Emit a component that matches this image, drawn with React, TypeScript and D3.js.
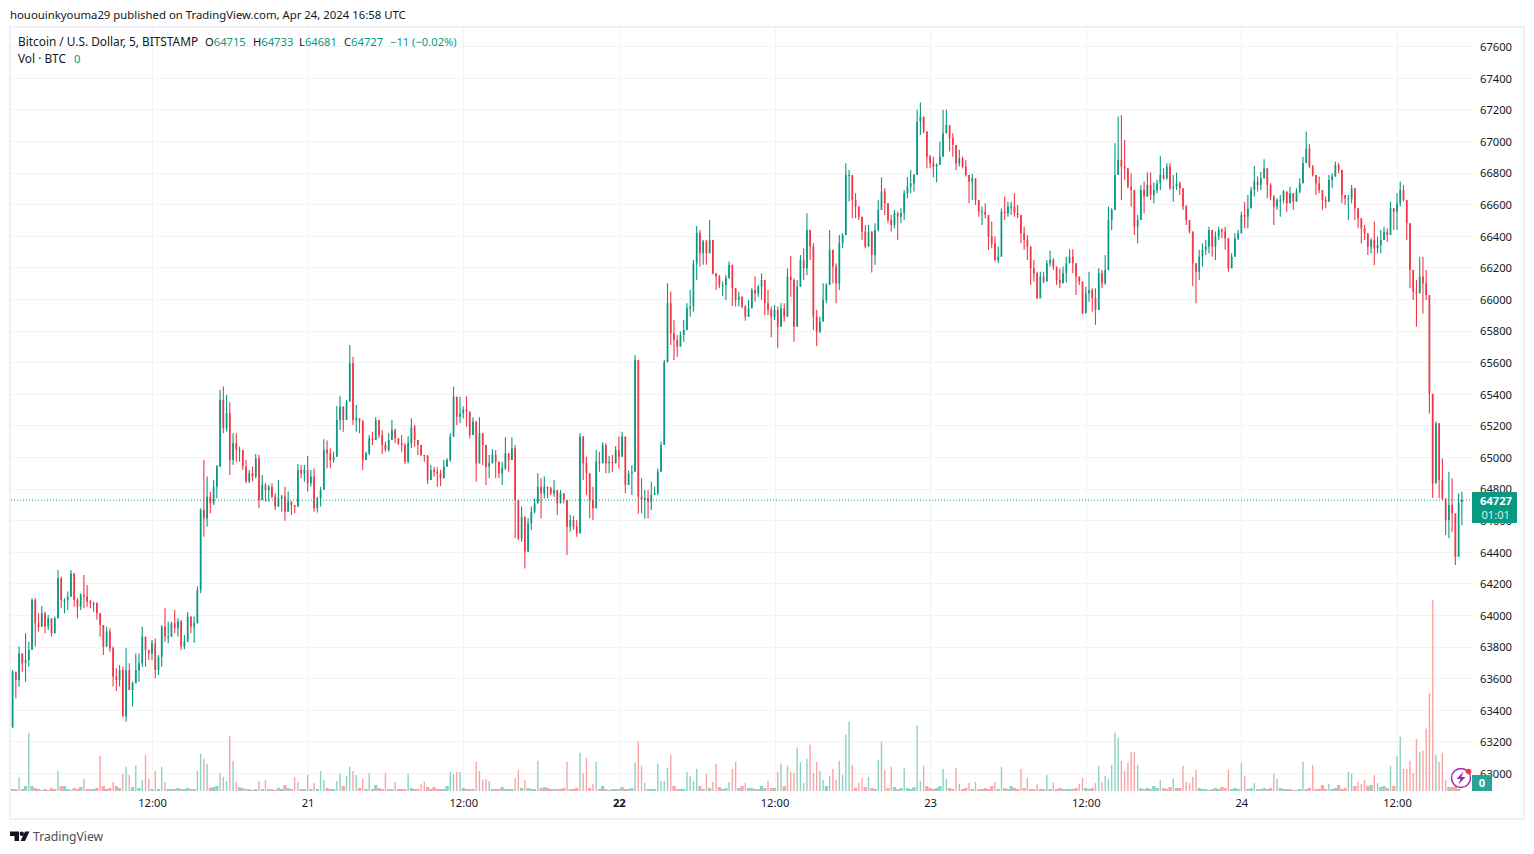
import React, { useEffect, useRef } from "react";
import * as d3 from "d3";

// one row per 10 candles, 15 min each
const closes = [
  63641,63589,63757,63694,63715,63779,64095,63947,63926,64011,
  63926,63979,63884,63979,64232,64095,64095,64116,64264,64095,
  64053,64127,64116,64084,64074,64074,64011,63937,63800,63895,
  63789,63610,63589,63652,63357,63650,63525,63568,63652,63694,
  63863,63779,63757,63821,63652,63736,63926,63863,63863,63947,
  63916,63958,63800,63831,63990,63926,63947,64158,64665,64612,
  64749,64707,64812,64939,65361,65182,65277,64981,65087,65045,
  65045,64939,64844,64897,64876,64992,64728,64823,64791,64812,
  64749,64686,64739,64749,64654,64718,64696,64686,64918,64897,
  64918,64834,64876,64675,64739,64791,65045,65023,64981,65002,
  65234,65319,65234,65350,65593,65234,65245,65224,64981,65023,
  65118,65108,65234,65139,65076,65044,65108,65171,65118,65087,
  65076,64970,65087,65192,65108,65076,65013,65006,64854,64918,
  64907,64897,64865,64939,64981,65129,65382,65255,65276,65298,
  65287,65139,65224,64960,65150,65076,64939,64960,65013,64970,
  64897,64928,65023,64981,65055,64728,64485,64622,64401,64580,
  64654,64707,64812,64770,64812,64802,64770,64791,64707,64770,
  64728,64559,64601,64559,64517,65129,64960,64897,64728,64675,
  64970,64960,65076,64960,64970,64960,65044,65002,65129,64823,
  64897,64907,65614,64749,64728,64740,64717,64760,64770,64907,
  65076,65600,65973,65783,65741,65699,65772,65804,65941,65952,
  66226,66416,66290,66363,66290,66374,66163,66142,66089,66089,
  66131,66216,66068,65994,66015,65952,65888,65941,66057,66036,
  66078,66120,65973,65931,65888,65931,65825,65941,65888,66142,
  66120,65825,66078,66247,66194,66437,66332,65888,65794,65857,
  65994,66089,66311,66205,66100,66353,66405,66785,66785,66627,
  66585,66521,66427,66332,66427,66279,66437,66564,66680,66606,
  66500,66469,66543,66521,66543,66669,66711,66732,66785,67123,
  67154,67060,66901,66859,66838,66849,66901,67049,67102,67017,
  66975,66859,66891,66838,66785,66743,66764,66627,66553,66553,
  66532,66395,66353,66247,66268,66553,66543,66585,66585,66543,
  66532,66416,66374,66332,66194,66163,66005,66142,66110,66226,
  66247,66205,66120,66100,66163,66226,66268,66226,66142,66110,
  65910,66036,66057,66005,65931,66163,66100,66184,66500,66564,
  66785,66880,66838,66827,66711,66690,66458,66500,66690,66648,
  66722,66659,66690,66732,66785,66764,66838,66701,66711,66732,
  66701,66585,66500,66427,66226,66173,66268,66311,66332,66437,
  66332,66395,66437,66427,66384,66194,66268,66384,66416,66532,
  66521,66574,66690,66743,66722,66764,66827,66722,66648,66585,
  66627,66627,66680,66606,66669,66616,66680,66732,66860,66950,
  66838,66785,66732,66690,66627,66616,66753,66775,66848,66817,
  66658,66637,66637,66701,66574,66511,66447,66416,66331,66374,
  66321,66342,66374,66426,66405,66574,66553,66606,66690,66627,
  66479,66184,66046,66036,66141,66099,66025,65400,64833,65213,
  64854,64738,64601,64696,64643,64369,64715,64727,
];

const highs = [
  63652,63641,63800,63757,63884,63831,64106,64106,64011,64057,
  64021,64000,63979,63990,64285,64243,64106,64148,64285,64264,
  64106,64137,64253,64190,64095,64084,64080,64011,63937,63926,
  63916,63800,63663,63684,63673,63789,63694,63578,63757,63757,
  63926,63842,63779,63842,63852,63747,63937,64042,63958,63958,
  64032,63979,63968,63874,64017,63990,63990,64180,64675,64981,
  64876,64781,64855,64950,65424,65446,65393,65346,65150,65150,
  65066,65045,64981,64918,64939,65019,65013,64886,64834,64823,
  64834,64770,64855,64760,64812,64781,64707,64696,64956,64950,
  64950,65007,64918,64928,64749,64812,65112,65104,65055,65034,
  65323,65386,65308,65361,65709,65635,65329,65245,65234,65034,
  65139,65160,65251,65203,65171,65097,65150,65234,65181,65118,
  65139,65087,65133,65245,65203,65108,65076,65013,65013,64949,
  64939,64935,64918,64981,64992,65150,65445,65382,65382,65319,
  65386,65203,65251,65203,65251,65150,65055,65013,65049,65044,
  64970,64970,65125,65023,65125,65076,64643,64686,64559,64612,
  64686,64738,64897,64865,64876,64812,64812,64854,64791,64791,
  64770,64675,64633,64627,64601,65150,65133,65002,64886,64812,
  65044,65034,65091,65087,65006,65013,65070,65129,65160,65129,
  64914,64949,65646,65604,64865,64791,64791,64844,64812,64928,
  65097,65614,66100,66047,65867,65772,65794,65867,65973,66057,
  66247,66462,66437,66374,66374,66500,66367,66163,66152,66110,
  66152,66237,66110,66057,66047,66015,65962,65994,66068,66142,
  66089,66163,65998,66057,65952,65962,65952,65973,65973,66194,
  66272,66131,66120,66279,66321,66543,66416,66353,65931,65888,
  66100,66100,66437,66289,66226,66405,66416,66859,66817,66785,
  66669,66585,66500,66469,66469,66342,66479,66627,66770,66701,
  66574,66532,66564,66553,66574,66690,66770,66817,66791,67197,
  67243,67102,67060,66912,66901,66859,66996,67197,67197,67091,
  67049,66954,66944,66901,66880,66775,66791,66764,66627,66585,
  66606,66517,66490,66395,66332,66574,66648,66616,66616,66669,
  66595,66458,66458,66405,66205,66247,66173,66173,66173,66247,
  66306,66258,66194,66194,66205,66268,66315,66315,66216,66142,
  66015,66078,66173,66068,66068,66194,66184,66279,66585,66574,
  66986,67155,67165,67007,66827,66796,66638,66532,66722,66743,
  66800,66800,66737,66754,66905,66827,66859,66859,66785,66800,
  66743,66648,66595,66490,66363,66184,66311,66353,66374,66458,
  66416,66427,66458,66448,66458,66374,66289,66416,66437,66553,
  66616,66659,66711,66842,66775,66806,66884,66806,66732,66659,
  66638,66659,66690,66627,66711,66648,66701,66764,66900,67060,
  66980,66848,66785,66775,66680,66648,66785,66796,66869,66863,
  66806,66658,66658,66722,66637,66574,66511,66469,66412,66384,
  66490,66395,66437,66458,66447,66616,66574,66669,66743,66722,
  66595,66458,66184,66120,66268,66268,66184,66025,65400,65224,
  65150,64991,64728,64907,64865,64643,64770,64780,
];

const lows = [
  63283,63473,63546,63641,63578,63673,63863,63800,63895,63926,
  63884,63905,63864,63895,63979,64042,64011,64032,64180,64053,
  63979,64032,64042,64053,64042,64021,63970,63863,63747,63810,
  63768,63547,63519,63547,63357,63325,63525,63420,63578,63578,
  63673,63673,63715,63715,63599,63620,63673,63831,63821,63884,
  63884,63864,63779,63783,63831,63884,63825,63947,64137,64496,
  64559,64644,64696,64739,64939,65150,65161,64886,64950,64970,
  64970,64918,64834,64834,64844,64865,64675,64749,64718,64718,
  64739,64665,64718,64654,64597,64696,64633,64644,64707,64865,
  64844,64781,64812,64654,64648,64686,64918,64929,64929,64964,
  65034,65171,65160,65234,65361,65203,65160,65150,64918,64981,
  65013,65076,65108,65118,65019,65034,65034,65139,65087,65076,
  65034,64956,64960,65055,65065,65013,65006,64970,64829,64854,
  64876,64812,64817,64886,64949,64970,65182,65203,65213,65245,
  65192,65118,65139,64844,64970,64949,64823,64865,64960,64865,
  64865,64823,64918,64907,65034,64485,64475,64464,64295,64496,
  64538,64643,64707,64612,64738,64738,64760,64749,64633,64707,
  64707,64380,64527,64538,64496,64633,64855,64760,64612,64601,
  64675,64907,65013,64897,64897,64907,64970,64928,65023,64770,
  64833,64760,64949,64643,64643,64610,64610,64665,64760,64760,
  65013,65245,65600,65709,65614,65635,65699,65730,65836,65888,
  65920,66120,66205,66216,66216,66342,66155,66057,66068,66019,
  65994,66131,65956,65952,65952,65941,65863,65888,65941,65983,
  66015,65994,65899,65899,65758,65867,65688,65857,65857,65931,
  66015,65730,65825,66110,66120,66152,66247,65804,65703,65783,
  65941,65973,66173,66100,65973,66057,66321,66585,66617,66511,
  66511,66500,66374,66321,66332,66167,66216,66427,66585,66532,
  66479,66427,66448,66374,66479,66500,66637,66669,66680,66785,
  67038,67049,66827,66827,66770,66737,66859,66975,67060,66933,
  66901,66817,66838,66827,66775,66606,66627,66595,66521,66469,
  66511,66311,66321,66237,66226,66384,66500,66521,66532,66521,
  66511,66353,66311,66247,66089,66110,66000,66078,66100,66131,
  66205,66184,66089,66068,66110,66104,66247,66163,66026,66089,
  65903,65983,65983,65920,65836,66005,66068,66089,66331,66437,
  66638,66817,66627,66754,66701,66585,66405,66353,66532,66543,
  66648,66627,66606,66669,66690,66754,66754,66690,66616,66690,
  66659,66564,66469,66416,66083,65973,66121,66205,66279,66289,
  66268,66247,66374,66384,66311,66173,66216,66289,66374,66416,
  66448,66448,66627,66648,66680,66690,66764,66638,66627,66469,
  66564,66521,66606,66553,66606,66564,66616,66669,66743,66860,
  66827,66775,66658,66669,66564,66574,66637,66701,66785,66796,
  66606,66595,66500,66606,66500,66447,66352,66374,66279,66289,
  66215,66289,66289,66374,66363,66532,66437,66437,66585,66616,
  66373,66068,65994,65825,66036,65909,65994,65276,64740,64949,
  64740,64728,64506,64485,64527,64317,64580,64570,
];

const volumes = [
  2,2,14,2,5,58,5,3,2,1,
  2,1,3,2,20,5,5,2,1,3,
  2,4,12,2,2,2,3,35,5,2,
  3,9,5,3,17,24,16,4,25,3,
  11,36,12,2,20,2,24,9,2,2,
  2,3,2,2,3,2,2,20,37,32,
  27,3,4,5,18,14,10,55,30,9,
  4,3,2,2,1,2,10,2,11,2,
  2,1,3,2,6,3,2,14,9,2,
  2,16,2,8,2,20,11,3,2,2,
  10,17,5,15,24,20,16,3,12,2,
  18,2,6,3,2,18,2,2,9,2,
  2,2,17,3,2,2,7,9,4,2,
  4,2,2,2,5,19,17,19,19,3,
  2,2,2,29,20,11,12,10,2,2,
  2,4,2,2,2,13,21,3,11,3,
  2,2,30,3,4,3,2,2,2,2,
  3,29,2,2,3,38,18,33,3,7,
  29,2,5,2,1,2,2,2,4,2,
  2,3,28,49,25,8,2,2,2,27,
  10,10,23,36,5,2,2,2,19,15,
  10,22,5,2,17,3,9,27,4,2,
  3,9,22,29,3,5,8,3,3,2,
  2,5,3,10,3,3,19,27,5,25,
  19,18,43,29,8,32,46,18,29,20,
  11,5,15,22,11,30,16,56,69,26,
  3,8,13,4,14,3,2,31,49,21,
  3,24,4,2,3,23,3,2,4,65,
  10,25,5,3,2,3,5,22,12,3,
  2,23,7,2,3,8,2,9,2,2,
  3,2,5,9,2,24,3,2,5,3,
  2,22,3,13,2,2,7,2,2,16,
  2,8,2,3,2,2,2,2,3,7,
  13,3,2,3,8,25,9,15,12,26,
  58,53,30,20,28,39,39,26,3,2,
  3,2,5,3,11,3,2,4,12,3,
  3,25,9,8,14,21,3,2,2,1,
  2,3,2,4,3,21,2,3,2,28,
  15,2,3,8,2,2,3,2,3,17,
  12,3,2,2,2,1,1,2,29,2,
  3,26,2,2,6,2,7,2,3,6,
  2,3,19,17,5,9,7,11,5,6,
  16,8,4,5,3,25,5,35,54,22,
  22,30,18,52,39,40,62,97,190,36,
  29,38,11,4,4,5,2,0,
];

const firstOpen = 63290;
const priceTicks = [
  63000, 63200, 63400, 63600, 63800, 64000, 64200, 64400, 64600, 64800, 65000, 65200,
  65400, 65600, 65800, 66000, 66200, 66400, 66600, 66800, 67000, 67200, 67400, 67600,
];
const timeTicks = [
  Date.UTC(2024, 3, 20, 12), Date.UTC(2024, 3, 21), Date.UTC(2024, 3, 21, 12), Date.UTC(2024, 3, 22),
  Date.UTC(2024, 3, 22, 12), Date.UTC(2024, 3, 23), Date.UTC(2024, 3, 23, 12), Date.UTC(2024, 3, 24),
  Date.UTC(2024, 3, 24, 12),
];
const timeLabels = ["12:00", "21", "12:00", "22", "12:00", "23", "12:00", "24", "12:00"];
const legendValues = [
  { label: "O", value: "64715", x: 205 },
  { label: "H", value: "64733", x: 253 },
  { label: "L", value: "64681", x: 299 },
  { label: "C", value: "64727", x: 344 },
];
const lastPrice = 64727;

const startTime = Date.UTC(2024, 3, 20, 1, 15);
const stepMs = 15 * 60 * 1000;

const UP = "#089981";
const DOWN = "#f23645";
const UP_VOL = "#8dd2c6";
const DOWN_VOL = "#f9a5a5";
const GRID = "#f2f3f6";
const BORDER = "#f0f1f6";
const TEXT = "#131722";
const FONT = "'Noto Sans', sans-serif";

const paneLeft = 11;
const paneRight = 1472;
const paneTop = 28;
const paneBottom = 791;

export default function App() {
  const ref = useRef<SVGSVGElement>(null);

  useEffect(() => {
    const svg = d3.select(ref.current!);
    svg.selectAll("*").remove();

    const x = d3
      .scaleUtc()
      .domain([new Date(timeTicks[0]), new Date(timeTicks[8])])
      .range([152, 1397]);
    const y = d3.scaleLinear().domain([63000, 67600]).range([773, 46.2]);
    const v = d3.scaleLinear().domain([0, 190]).range([paneBottom, 600]);

    const candles = closes.map((close, i) => {
      const open = i === 0 ? firstOpen : closes[i - 1];
      return {
        x: x(new Date(startTime + i * stepMs)),
        open,
        close,
        high: highs[i],
        low: lows[i],
        vol: volumes[i],
        up: close >= open,
      };
    });

    // frame
    svg
      .append("rect")
      .attr("x", 10)
      .attr("y", 27)
      .attr("width", 1514)
      .attr("height", 792)
      .attr("fill", "#fff")
      .attr("stroke", BORDER)
      .attr("stroke-width", 2);

    // grid
    svg
      .append("g")
      .selectAll("line")
      .data(priceTicks)
      .join("line")
      .attr("x1", paneLeft)
      .attr("x2", paneRight)
      .attr("y1", (d) => Math.round(y(d)) + 0.5)
      .attr("y2", (d) => Math.round(y(d)) + 0.5)
      .attr("stroke", GRID);
    svg
      .append("g")
      .selectAll("line")
      .data(timeTicks)
      .join("line")
      .attr("x1", (d) => Math.round(x(new Date(d))) + 0.5)
      .attr("x2", (d) => Math.round(x(new Date(d))) + 0.5)
      .attr("y1", paneTop)
      .attr("y2", paneBottom + 1)
      .attr("stroke", GRID);

    // volume
    svg
      .append("g")
      .selectAll("rect")
      .data(candles)
      .join("rect")
      .attr("x", (d) => d.x - (d.vol > 6 ? 0.7 : 1.62))
      .attr("width", (d) => (d.vol > 6 ? 1.4 : 3.24))
      .attr("y", (d) => v(d.vol))
      .attr("height", (d) => paneBottom - v(d.vol))
      .attr("fill", (d) => (d.up ? UP_VOL : DOWN_VOL));

    // candles
    const marks = svg.append("g").selectAll("g").data(candles).join("g");
    marks
      .append("line")
      .attr("x1", (d) => d.x)
      .attr("x2", (d) => d.x)
      .attr("y1", (d) => y(Math.max(d.high, d.open, d.close)))
      .attr("y2", (d) => y(Math.min(d.low, d.open, d.close)))
      .attr("stroke", (d) => (d.up ? UP : DOWN))
      .attr("stroke-width", 1.1);
    marks
      .append("rect")
      .attr("x", (d) => d.x - 0.85)
      .attr("width", 1.7)
      .attr("y", (d) => y(Math.max(d.open, d.close)))
      .attr("height", (d) => Math.max(1, Math.abs(y(d.open) - y(d.close))))
      .attr("fill", (d) => (d.up ? UP : DOWN));

    // last price line
    svg
      .append("line")
      .attr("x1", paneLeft)
      .attr("x2", paneRight)
      .attr("y1", y(lastPrice))
      .attr("y2", y(lastPrice))
      .attr("stroke", UP)
      .attr("stroke-dasharray", "1 2");

    // axes
    const yAxis: any = d3
      .axisRight(y)
      .tickValues(priceTicks)
      .tickSize(0)
      .tickPadding(8)
      .tickFormat(d3.format("d") as any);
    const yg = svg.append("g").attr("transform", `translate(${paneRight},0.7)`).call(yAxis);
    yg.select(".domain").remove();
    yg.selectAll("text").attr("font-family", FONT).attr("font-size", 11.2).attr("fill", TEXT);

    const xAxis: any = d3
      .axisBottom(x)
      .tickValues(timeTicks.map((d) => new Date(d)))
      .tickSize(0)
      .tickPadding(8)
      .tickFormat((_, i) => timeLabels[i]);
    const xg = svg.append("g").attr("transform", `translate(0,${paneBottom})`).call(xAxis);
    xg.select(".domain").remove();
    xg.selectAll("text")
      .attr("font-family", FONT)
      .attr("font-size", 11.2)
      .attr("fill", TEXT)
      .attr("font-weight", (_, i) => (timeLabels[i] === "22" ? 700 : 400));

    // price tag
    svg.append("rect").attr("x", 1472).attr("y", 492).attr("width", 45).attr("height", 31).attr("rx", 1).attr("fill", UP);
    svg
      .append("text")
      .attr("x", 1512)
      .attr("y", 505)
      .attr("text-anchor", "end")
      .attr("font-family", FONT)
      .attr("font-size", 11.2)
      .attr("font-weight", 700)
      .attr("fill", "#fff")
      .text(String(lastPrice));
    svg
      .append("text")
      .attr("x", 1510)
      .attr("y", 519)
      .attr("text-anchor", "end")
      .attr("font-family", FONT)
      .attr("font-size", 11.2)
      .attr("fill", "#d5eee9")
      .text("01:01");

    // volume tag
    svg.append("rect").attr("x", 1472).attr("y", 775).attr("width", 20).attr("height", 16).attr("fill", "#26a597");
    svg
      .append("text")
      .attr("x", 1482)
      .attr("y", 787)
      .attr("text-anchor", "middle")
      .attr("font-family", FONT)
      .attr("font-size", 11.2)
      .attr("font-weight", 700)
      .attr("fill", "#fff")
      .text("0");

    // lightning badge
    svg.append("circle").attr("cx", 1461).attr("cy", 778).attr("r", 9.5).attr("fill", "#fff").attr("stroke", "#9c27b0").attr("stroke-width", 1.4);
    svg.append("path").attr("d", "M1463.5 771.5 L1456.5 779 L1460.5 779 L1458.5 784.5 L1465.5 777 L1461.5 777 Z").attr("fill", "#9c27b0");
    svg.append("circle").attr("cx", 1468.5).attr("cy", 771.5).attr("r", 2.8).attr("fill", DOWN);

    // legend
    const legend = svg.append("g").attr("font-family", FONT).attr("font-size", 11.2).attr("fill", TEXT);
    legend.append("text").attr("x", 18).attr("y", 46).attr("font-size", 11.85).text("Bitcoin / U.S. Dollar, 5, BITSTAMP");
    legendValues.forEach((d) => {
      const t = legend.append("text").attr("x", d.x).attr("y", 46);
      t.append("tspan").text(d.label);
      t.append("tspan").attr("fill", UP).text(d.value);
    });
    legend.append("text").attr("x", 390).attr("y", 46).attr("fill", UP).text("−11 (−0.02%)");
    legend.append("text").attr("x", 18).attr("y", 63).attr("font-size", 11.85).text("Vol · BTC");
    legend.append("text").attr("x", 74).attr("y", 63).attr("fill", UP).text("0");

    // header and footer
    svg
      .append("text")
      .attr("x", 10)
      .attr("y", 19)
      .attr("font-family", FONT)
      .attr("font-size", 11.35)
      .attr("fill", TEXT)
      .text("hououinkyouma29 published on TradingView.com, Apr 24, 2024 16:58 UTC");
    svg.append("path").attr("d", "M10 831.5 H19 V841 H14.5 V836 H10 Z M25 831.5 H29.5 L25 841 H20.5 Z").attr("fill", TEXT);
    svg.append("circle").attr("cx", 21.8).attr("cy", 833.8).attr("r", 2.2).attr("fill", TEXT);
    svg
      .append("text")
      .attr("x", 33)
      .attr("y", 841)
      .attr("font-family", FONT)
      .attr("font-size", 12.2)
      .attr("fill", "#4a4e59")
      .text("TradingView");
  }, []);

  return <svg ref={ref} width={1534} height={854} style={{ position: "absolute", left: 0, top: 0, background: "#fff" }} />;
}
